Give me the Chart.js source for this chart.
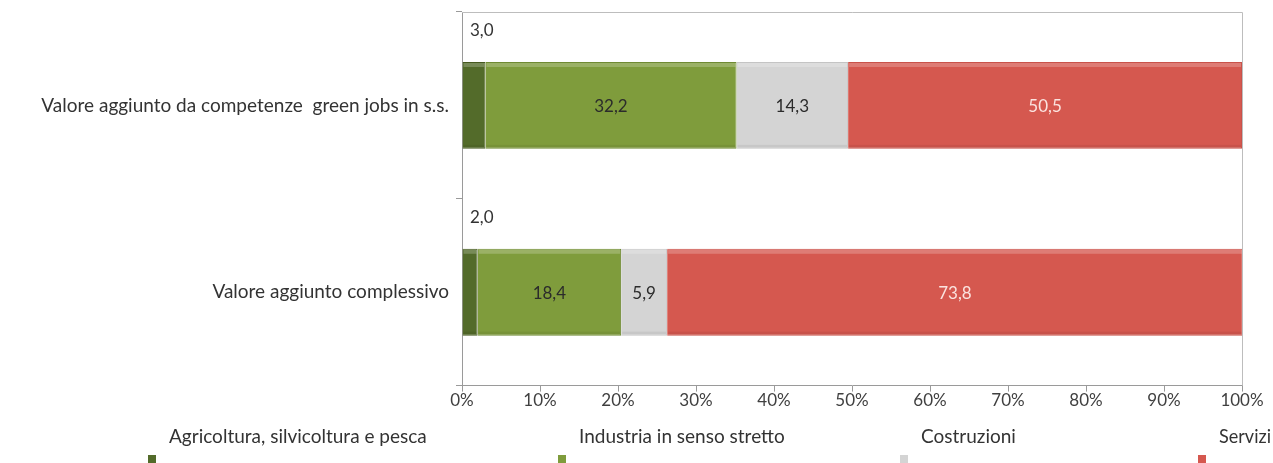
<!DOCTYPE html>
<html>
<head>
<meta charset="utf-8">
<script src="https://cdn.jsdelivr.net/npm/chart.js"></script>
<style>
  html, body { margin: 0; padding: 0; background: #fff; }
  #wrap { width: 1273px; height: 463px; }
</style>
</head>
<body>
<div id="wrap"><canvas id="valoreChart"></canvas></div>
<script>
const categories = ["Valore aggiunto da competenze  green jobs in s.s.", "Valore aggiunto complessivo"];
const seriesNames = ["Agricoltura, silvicoltura e pesca", "Industria in senso stretto", "Costruzioni", "Servizi"];
const agricoltura = [3.0, 2.0];
const industria = [32.2, 18.4];
const costruzioni = [14.3, 5.9];
const servizi = [50.5, 73.8];
const xTickValues = [0, 10, 20, 30, 40, 50, 60, 70, 80, 90, 100];

const FONT = "Lato, 'Open Sans', sans-serif";
const colors = ["#536b2a", "#7f9c3c", "#d4d4d4", "#d5584f"];
const borders = ["#46591f", "#6f8a33", "#c4c4c4", "#c9524a"];
const labelColors = ["#333333", "#2b2b2b", "#2b2b2b", "#fbe3df"];

const fmt = v => v.toFixed(1).replace(".", ",");

// soft bevel on every bar, like the office 3D style
const bevel = {
  id: "bevel",
  afterDatasetsDraw(chart) {
    const ctx = chart.ctx;
    ctx.save();
    chart.data.datasets.forEach((ds, di) => {
      chart.getDatasetMeta(di).data.forEach(bar => {
        const x0 = Math.min(bar.x, bar.base), x1 = Math.max(bar.x, bar.base);
        const y0 = bar.y - bar.height / 2, y1 = bar.y + bar.height / 2;
        const w = x1 - x0;
        ctx.fillStyle = "rgba(255,255,255,0.22)";
        ctx.fillRect(x0 + 1, y0 + 1, w - 2, 4);
        ctx.fillStyle = "rgba(0,0,0,0.06)";
        ctx.fillRect(x0 + 1, y1 - 4, w - 2, 3);
      });
    });
    ctx.restore();
  }
};

// labels inside (or above, for the thin first segment) the bars
const barLabels = {
  id: "barLabels",
  afterDatasetsDraw(chart) {
    const ctx = chart.ctx;
    ctx.save();
    ctx.font = "17px " + FONT;
    ctx.textBaseline = "middle";
    chart.data.datasets.forEach((ds, di) => {
      const meta = chart.getDatasetMeta(di);
      meta.data.forEach((bar, i) => {
        const v = ds.data[i];
        ctx.fillStyle = labelColors[di];
        if (di === 0) {
          ctx.textAlign = "left";
          ctx.fillText(fmt(v), chart.chartArea.left + 8, bar.y - bar.height / 2 - 31);
        } else {
          ctx.textAlign = "center";
          ctx.fillText(fmt(v), (bar.x + bar.base) / 2, bar.y + 1);
        }
      });
    });
    ctx.restore();
  }
};

// thin frame on top and right of plot area
const frame = {
  id: "frame",
  beforeDatasetsDraw(chart) {
    const { ctx, chartArea: a } = chart;
    ctx.save();
    ctx.strokeStyle = "#bdbdbd";
    ctx.lineWidth = 1;
    ctx.beginPath();
    ctx.moveTo(a.left, a.top + 0.5);
    ctx.lineTo(a.right + 0.5, a.top + 0.5);
    ctx.lineTo(a.right + 0.5, a.bottom);
    ctx.stroke();
    ctx.restore();
  }
};

// legend at the bottom, small square below-left of each name
const legendXs = [148, 558, 900, 1198];
const bottomLegend = {
  id: "bottomLegend",
  afterDraw(chart) {
    const ctx = chart.ctx;
    ctx.save();
    ctx.font = "19px " + FONT;
    ctx.textBaseline = "alphabetic";
    ctx.textAlign = "left";
    chart.data.datasets.forEach((ds, di) => {
      const x = legendXs[di];
      ctx.fillStyle = colors[di];
      ctx.fillRect(x, 455, 8, 8);
      ctx.fillStyle = "#333333";
      ctx.fillText(ds.label, x + 21, 443, chart.width - (x + 21) - 2);
    });
    ctx.restore();
  }
};

new Chart(document.getElementById("valoreChart"), {
  type: "bar",
  data: {
    labels: categories,
    datasets: [agricoltura, industria, costruzioni, servizi].map((d, i) => ({
      label: seriesNames[i],
      data: d,
      backgroundColor: colors[i],
      borderColor: borders[i],
      borderWidth: 1,
      barPercentage: 1,
      categoryPercentage: 0.465,
    })),
  },
  options: {
    indexAxis: "y",
    responsive: true,
    maintainAspectRatio: false,
    animation: false,
    layout: { padding: { top: 12, right: 31, bottom: 53, left: 0 } },
    plugins: {
      legend: { display: false },
      tooltip: { enabled: false },
    },
    scales: {
      x: {
        stacked: true,
        min: 0,
        max: 100,
        afterBuildTicks(scale) {
          scale.ticks = xTickValues.map(v => ({ value: v }));
        },
        ticks: {
          callback: v => v + "%",
          color: "#404040",
          font: { family: FONT, size: 17 },
          padding: -1,
          maxRotation: 0,
        },
        grid: { drawOnChartArea: false, color: "#9a9a9a", tickLength: 6 },
        border: { color: "#9a9a9a" },
      },
      y: {
        stacked: true,
        afterFit(scale) {
          scale.width = 462;
          scale.paddingTop = 0;
          scale.paddingBottom = 0;
        },
        ticks: {
          color: "#333333",
          font: { family: FONT, size: 19 },
          padding: 7,
        },
        grid: { drawOnChartArea: false, color: "#9a9a9a", tickLength: 6, offset: true },
        border: { color: "#9a9a9a" },
      },
    },
  },
  plugins: [frame, bevel, barLabels, bottomLegend],
});
</script>
</body>
</html>
